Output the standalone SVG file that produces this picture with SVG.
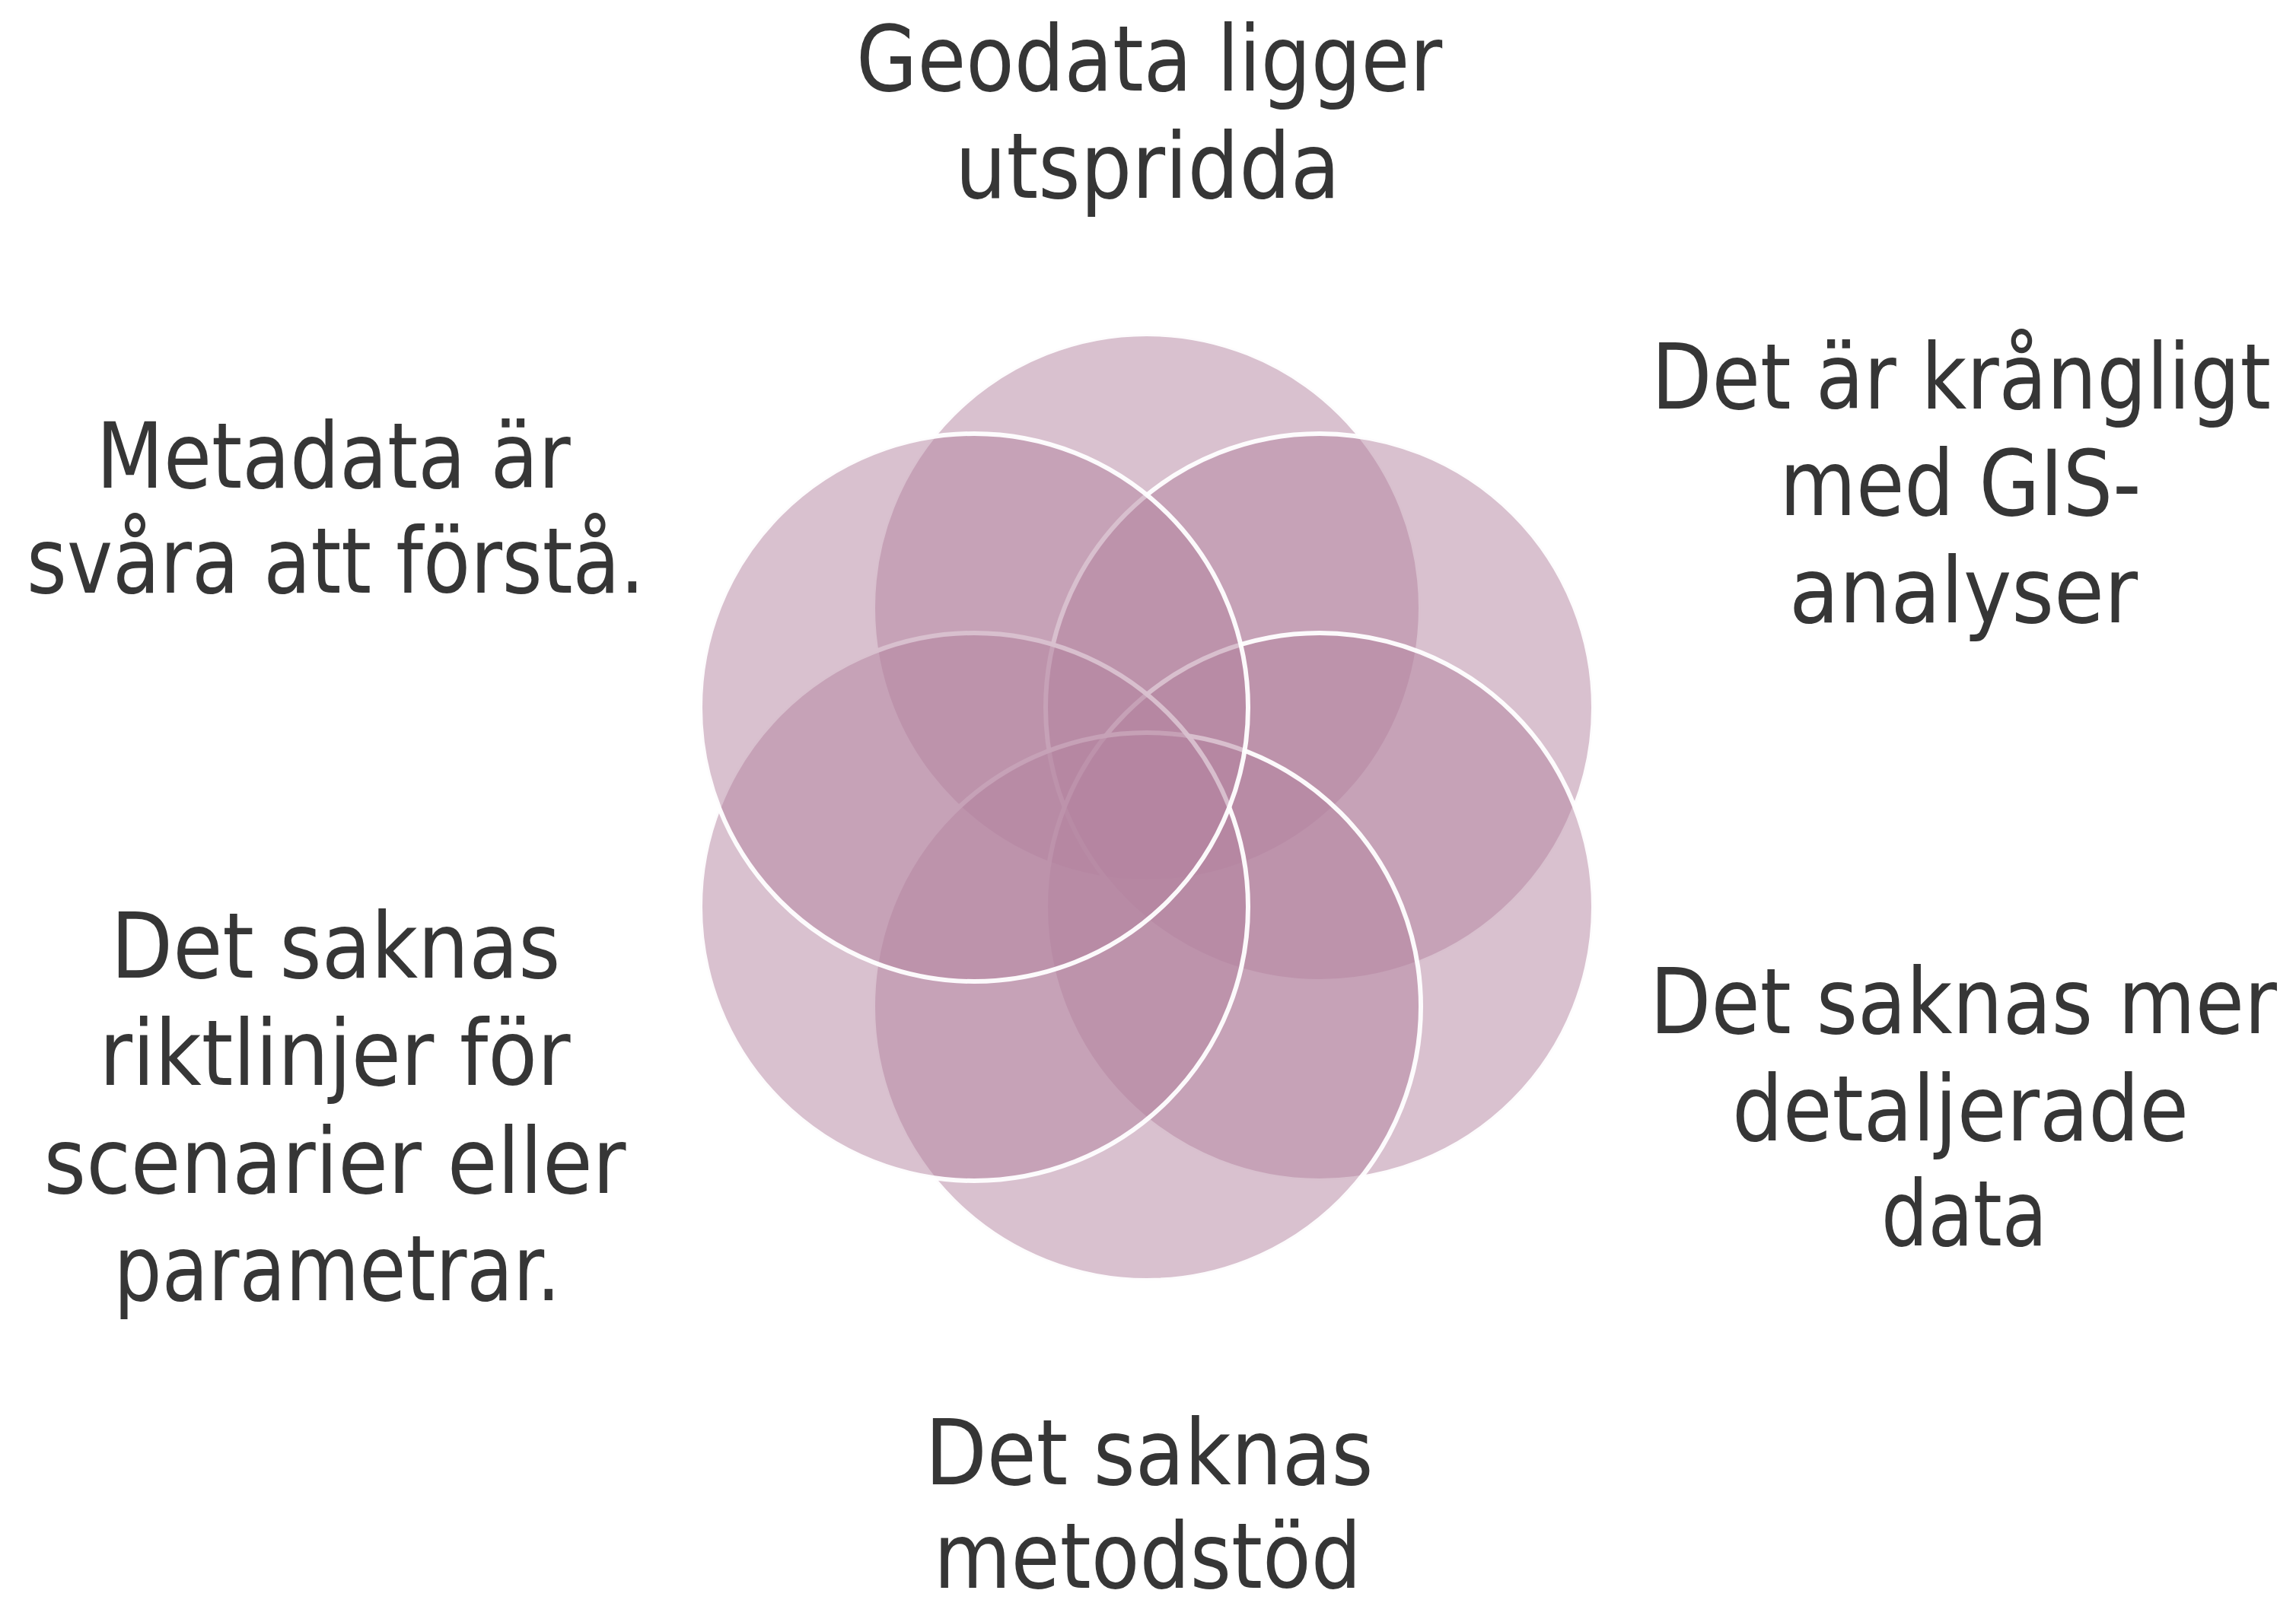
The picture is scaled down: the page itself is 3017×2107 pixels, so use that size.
<svg xmlns="http://www.w3.org/2000/svg" width="3017" height="2107" viewBox="0 0 3017 2107">
  <style>
    .c { fill: #b3849f; fill-opacity: 0.5; stroke: #ffffff; stroke-width: 6; stroke-opacity: 0.95; }
    .t { font-family: "Liberation Sans Narrow", "DejaVu Sans Condensed", "Liberation Sans", sans-serif; font-size: 120px; fill: #363636; text-anchor: middle; }
  </style>
  <rect width="3017" height="2107" fill="#ffffff"/>
  <g id="circles">
    <circle id="c-top" class="c" cx="1507" cy="799" r="360"/>
    <circle id="c-upper-right" class="c" cx="1734" cy="930" r="360"/>
    <circle id="c-lower-right" class="c" cx="1734" cy="1192" r="360"/>
    <circle id="c-bottom" class="c" cx="1507" cy="1323" r="360"/>
    <circle id="c-lower-left" class="c" cx="1280" cy="1192" r="360"/>
    <circle id="c-upper-left" class="c" cx="1280" cy="930" r="360"/>
  </g>
  <g id="label-top">
    <text class="t" x="1510" y="119" textLength="770" lengthAdjust="spacingAndGlyphs">Geodata ligger</text>
    <text class="t" x="1508" y="260" textLength="506" lengthAdjust="spacingAndGlyphs">utspridda</text>
  </g>
  <g id="label-upper-right">
    <text class="t" x="2577" y="537" textLength="814" lengthAdjust="spacingAndGlyphs">Det är krångligt</text>
    <text class="t" x="2576" y="677" textLength="475" lengthAdjust="spacingAndGlyphs">med GIS-</text>
    <text class="t" x="2580" y="818" textLength="458" lengthAdjust="spacingAndGlyphs">analyser</text>
  </g>
  <g id="label-lower-right">
    <text class="t" x="2580" y="1358" textLength="824" lengthAdjust="spacingAndGlyphs">Det saknas mer</text>
    <text class="t" x="2576" y="1499" textLength="600" lengthAdjust="spacingAndGlyphs">detaljerade</text>
    <text class="t" x="2581" y="1637" textLength="218" lengthAdjust="spacingAndGlyphs">data</text>
  </g>
  <g id="label-bottom">
    <text class="t" x="1510" y="1951" textLength="589" lengthAdjust="spacingAndGlyphs">Det saknas</text>
    <text class="t" x="1508" y="2087" textLength="562" lengthAdjust="spacingAndGlyphs">metodstöd</text>
  </g>
  <g id="label-lower-left">
    <text class="t" x="441" y="1285" textLength="591" lengthAdjust="spacingAndGlyphs">Det saknas</text>
    <text class="t" x="440" y="1426" textLength="619" lengthAdjust="spacingAndGlyphs">riktlinjer för</text>
    <text class="t" x="440" y="1568" textLength="765" lengthAdjust="spacingAndGlyphs">scenarier eller</text>
    <text class="t" x="443" y="1709" textLength="587" lengthAdjust="spacingAndGlyphs">parametrar.</text>
  </g>
  <g id="label-upper-left">
    <text class="t" x="438" y="641" textLength="623" lengthAdjust="spacingAndGlyphs">Metadata är</text>
    <text class="t" x="441" y="779" textLength="812" lengthAdjust="spacingAndGlyphs">svåra att förstå.</text>
  </g>
</svg>
